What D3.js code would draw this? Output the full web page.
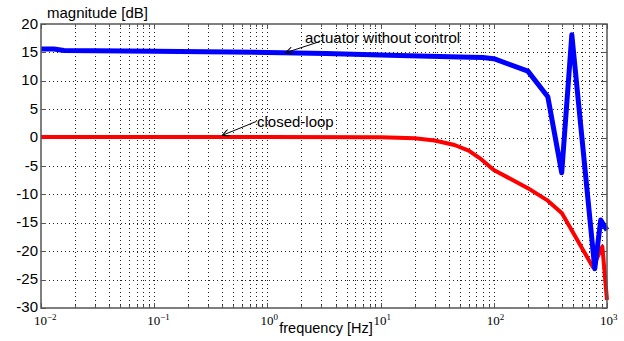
<!DOCTYPE html>
<html>
<head>
<meta charset="utf-8">
<script src="https://cdn.jsdelivr.net/npm/d3@7"></script>
<style>
  body { margin: 0; background: #fff; }
  text { font-family: "Liberation Sans", Arial, sans-serif; }
</style>
</head>
<body>
<div id="chart"></div>
<script>
const W = 624, H = 341;

// actuator without control (blue)
const freq_act = [0.01, 0.013, 0.016, 0.1, 1, 3.3, 12, 50, 80, 100, 200, 300, 398, 489, 780, 880, 1000];
const mag_act  = [15.6, 15.6, 15.35, 15.2, 15.0, 14.8, 14.5, 14.2, 14.1, 13.9, 11.7, 7.2, -6.2, 18.1, -23.1, -14.5, -16.3];

// closed-loop (red)
const freq_cl = [0.01, 1, 10, 20, 30, 45, 60, 75, 100, 200, 300, 400, 750, 910, 1000];
const mag_cl  = [0.1, 0.1, 0.05, -0.1, -0.5, -1.3, -2.3, -3.6, -5.7, -8.9, -11.1, -13.3, -22.8, -19.2, -28.6];

const yTicks = [20, 15, 10, 5, 0, -5, -10, -15, -20, -25, -30];
const xDecades = [-2, -1, 0, 1, 2, 3];

const svg = d3.select("#chart").append("svg").attr("width", W).attr("height", H);

const x = d3.scaleLog().domain([0.01, 1000]).range([41, 607]);
const y = d3.scaleLinear().domain([-30, 20]).range([308, 24]);

// grid
const minor = [];
xDecades.slice(0, -1).forEach(e => {
  for (let k = 1; k <= 9; k++) minor.push(Math.pow(10, e) * k);
});
const xGrid = minor.filter(f => f > 0.0100001 && f < 999.99);

svg.append("g").selectAll("line").data(xGrid).enter().append("line")
  .attr("x1", d => Math.round(x(d)) + 0.5).attr("x2", d => Math.round(x(d)) + 0.5)
  .attr("y1", y(20)).attr("y2", y(-30))
  .attr("stroke", "#222").attr("stroke-width", 1).attr("stroke-dasharray", "1,3");

svg.append("g").selectAll("line").data(yTicks.filter(v => v > -30 && v < 20)).enter().append("line")
  .attr("x1", x(0.01)).attr("x2", x(1000))
  .attr("y1", d => Math.round(y(d)) + 0.5).attr("y2", d => Math.round(y(d)) + 0.5)
  .attr("stroke", "#222").attr("stroke-width", 1).attr("stroke-dasharray", "1,3");

// ticks (inward)
const tk = svg.append("g").attr("stroke", "#555").attr("stroke-width", 1);
minor.concat([1000]).forEach(f => {
  const isMajor = Math.abs(Math.log10(f) - Math.round(Math.log10(f))) < 1e-9;
  const len = isMajor ? 5 : 3;
  const px = Math.round(x(f)) + 0.5;
  tk.append("line").attr("x1", px).attr("x2", px).attr("y1", y(-30)).attr("y2", y(-30) - len);
  tk.append("line").attr("x1", px).attr("x2", px).attr("y1", y(20)).attr("y2", y(20) + len);
});
yTicks.forEach(v => {
  const py = Math.round(y(v)) + 0.5;
  tk.append("line").attr("x1", x(0.01)).attr("x2", x(0.01) + 5).attr("y1", py).attr("y2", py);
  tk.append("line").attr("x1", x(1000)).attr("x2", x(1000) - 5).attr("y1", py).attr("y2", py);
});

// lines
const line = d3.line().x(d => x(d[0])).y(d => y(d[1]));

svg.append("path")
  .datum(d3.zip(freq_cl, mag_cl))
  .attr("d", line).attr("fill", "none")
  .attr("stroke", "#ff0000").attr("stroke-width", 4).attr("stroke-linejoin", "round");

svg.append("path")
  .datum(d3.zip(freq_act, mag_act))
  .attr("d", line).attr("fill", "none")
  .attr("stroke", "#0000ff").attr("stroke-width", 5).attr("stroke-linejoin", "round");

// box
svg.append("rect")
  .attr("x", x(0.01)).attr("y", y(20))
  .attr("width", x(1000) - x(0.01)).attr("height", y(-30) - y(20))
  .attr("fill", "none").attr("stroke", "#555").attr("stroke-width", 1.5);

// y tick labels
svg.append("g").selectAll("text").data(yTicks).enter().append("text")
  .attr("x", 38).attr("y", d => y(d) + (d === -30 ? 3.5 : 4.5))
  .attr("text-anchor", "end").attr("font-size", 15).attr("fill", "#000")
  .text(d => d);

// x tick labels: 10^n, with the "10" centred on the tick
const xl = svg.append("g").selectAll("text").data(xDecades).enter().append("text")
  .attr("x", d => x(Math.pow(10, d)) - 7).attr("y", 325)
  .style("font-family", "'Liberation Serif', 'DejaVu Serif', serif")
  .attr("font-size", 13).attr("fill", "#000");
xl.append("tspan").text("10");
xl.append("tspan").attr("dy", -5).attr("font-size", 9).text(d => d < 0 ? "\u2212" + (-d) : d);

// axis titles
svg.append("text").attr("x", 326).attr("y", 333).attr("text-anchor", "middle")
  .attr("font-size", 14.5).text("frequency [Hz]");
svg.append("text").attr("x", 47).attr("y", 18).attr("font-size", 15).text("magnitude [dB]");

// annotations
const defs = svg.append("defs");
defs.append("marker").attr("id", "arr").attr("viewBox", "0 0 10 10")
  .attr("refX", 10).attr("refY", 5).attr("markerWidth", 9).attr("markerHeight", 7)
  .attr("markerUnits", "userSpaceOnUse").attr("orient", "auto")
  .append("path").attr("d", "M0,0 L10,5 L0,10").attr("fill", "none").attr("stroke", "#000").attr("stroke-width", 1.5);

function note(f0, v0, f1, v1, label, tx, ty) {
  svg.append("line")
    .attr("x1", x(f0)).attr("y1", y(v0)).attr("x2", x(f1)).attr("y2", y(v1))
    .attr("stroke", "#000").attr("stroke-width", 1).attr("marker-end", "url(#arr)");
  svg.append("text").attr("x", tx).attr("y", ty).attr("font-size", 15).text(label);
}
note(2.9, 16.9, 1.45, 14.95, "actuator without control", 305, 43);
note(0.8, 2.85, 0.4, 0.4, "closed-loop", 257, 127);
</script>
</body>
</html>
